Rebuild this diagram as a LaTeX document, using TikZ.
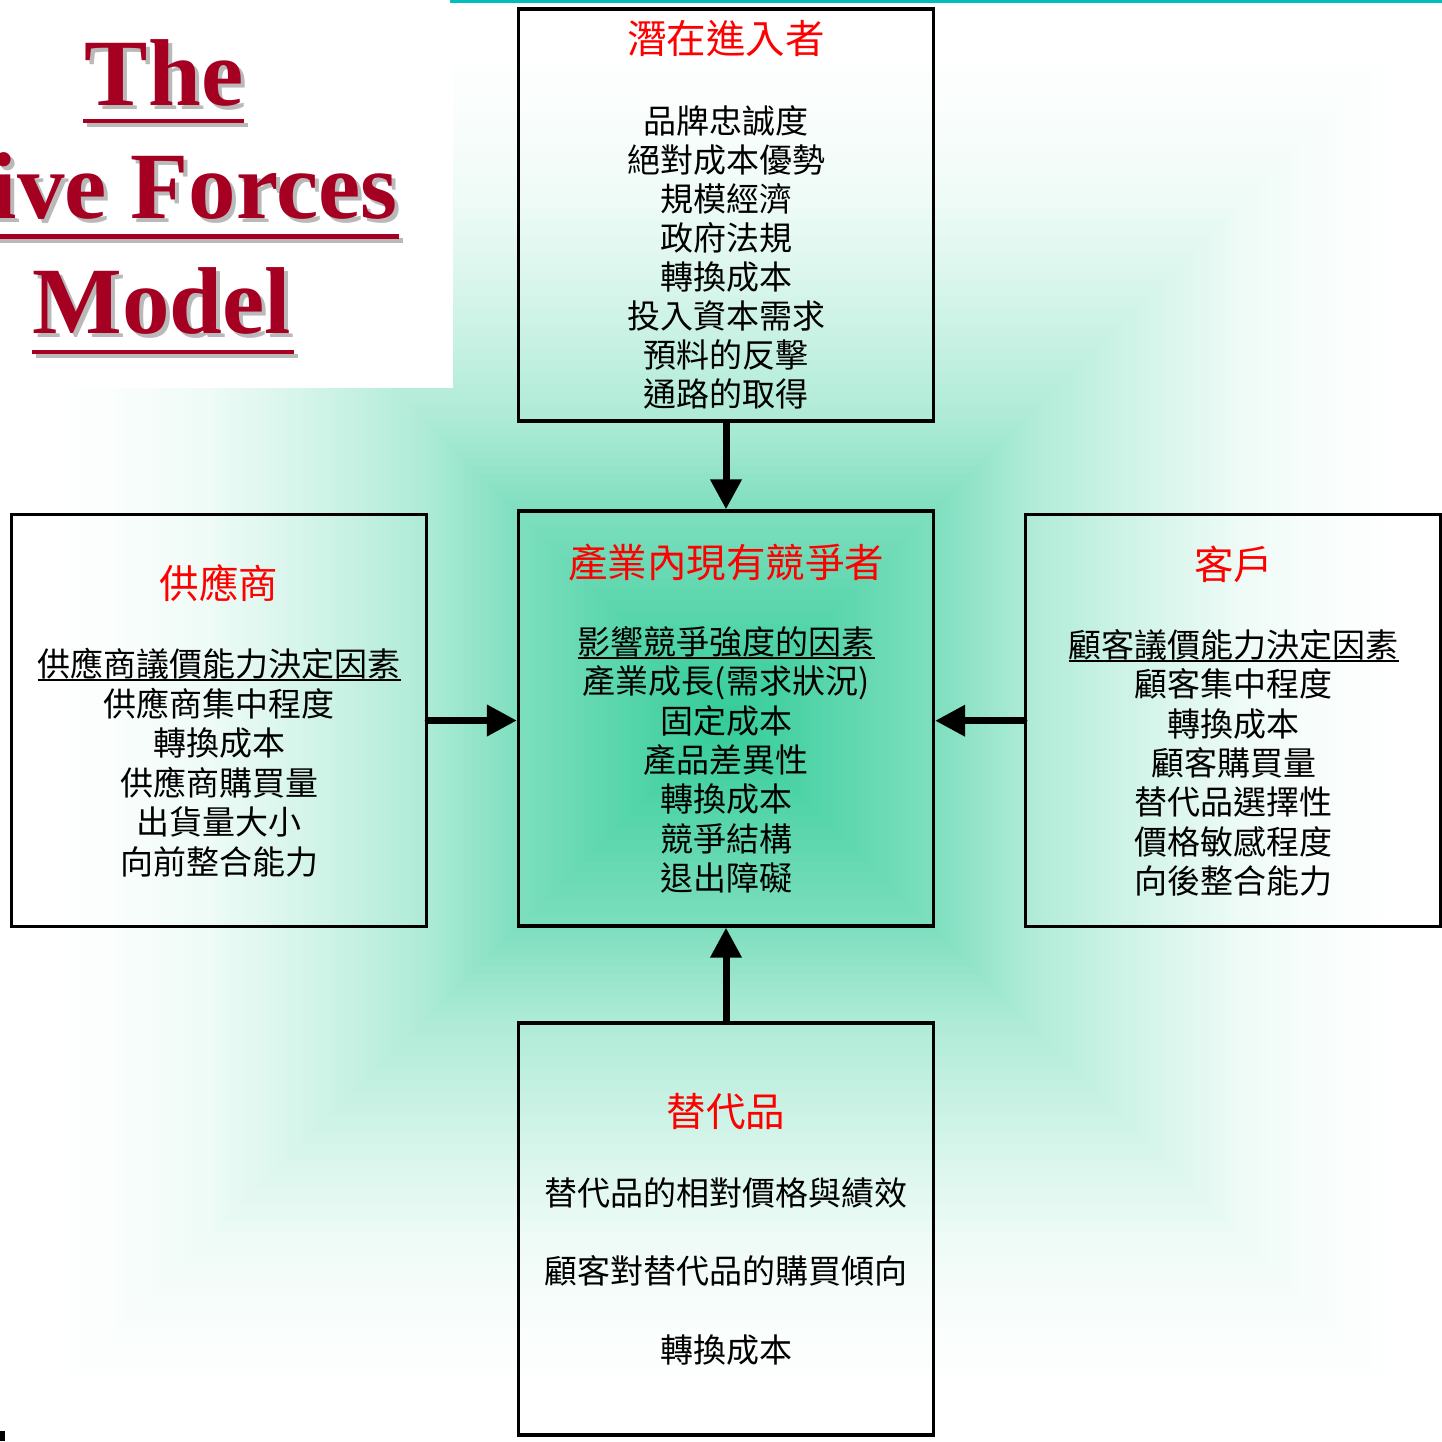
\documentclass[tikz,border=0pt]{standalone}
\usepackage{fontspec}
\setmainfont{Liberation Serif}
\newfontfamily\cjk{Noto Sans CJK TC}
\usetikzlibrary{arrows.meta}
\definecolor{bgc}{RGB}{51,204,153}
\definecolor{titlered}{RGB}{165,0,33}
\definecolor{shadowgray}{RGB}{185,185,185}
\definecolor{tealline}{RGB}{0,190,190}
\definecolor{headred}{RGB}{255,0,0}
\newcommand\ulx[1]{\setbox0\hbox{#1}\rlap{\vrule width\wd0 height -2.6pt depth 4.3pt}\box0}
\tikzset{
  forcebox/.style={draw=black, line width=3.3pt, minimum width=415pt, minimum height=412pt, inner sep=0pt},
  head/.style={font=\cjk\fontsize{39.5}{40}\selectfont, text=headred, inner sep=0pt, anchor=base},
  body/.style={font=\cjk\fontsize{33}{39}\selectfont, text=black, inner sep=0pt, anchor=base},
  arr/.style={line width=7pt, line cap=round, -{Triangle[length=30pt,width=30pt]}},
  bigtitle/.style={font=\fontsize{95}{95}\selectfont\bfseries, inner sep=0pt, text=titlered},
  titleshadow/.style={bigtitle, text=shadowgray},
}
\begin{document}
\begin{tikzpicture}[x=1pt,y=-1pt]
\useasboundingbox (0,0) rectangle (1442,1441);
\begin{scope}
\clip (0,0) rectangle (1442,1441);
% background: rectangular path gradient from the centre
\fill[white] (0,0) rectangle (1442,1441);
\foreach \d in {700,696,...,0} {
  \pgfmathsetmacro\f{\d<205 ? (100-36*(\d/205)) : (\d<304 ? (64-25*((\d-205)/99)) : (\d<420 ? (39-18*((\d-304)/116)) : (\d<520 ? (21-13*((\d-420)/100)) : (\d<620 ? (8-6*((\d-520)/100)) : (\d<680 ? (2-2*((\d-620)/60)) : 0)))))}
  \pgfmathsetmacro\f{max(0,min(100,\f))}
  \fill[bgc!\f!white] ({726-\d-2},{720-\d-2}) rectangle ({726+\d+2},{720+\d+2});
}
% title panel
\fill[white] (0,0) rectangle (453,388);
\fill[tealline] (450,0) rectangle (1442,2.7);
% title text with shadow
\node[titleshadow, anchor=base] (t1s) at (168,109) {The};
\node[bigtitle, anchor=base] (t1) at (164,105) {The};
\node[titleshadow, anchor=base east] (t2s) at (402,222.3) {ive Forces};
\node[bigtitle, anchor=base east] (t2) at (398,218.3) {ive Forces};
\node[titleshadow, anchor=base] (t3s) at (166,337.3) {Model};
\node[bigtitle, anchor=base] (t3) at (162,333.3) {Model};
\fill[shadowgray] (86.7,122.7) rectangle (248,127.3);
\fill[titlered] (82.7,118.7) rectangle (244,123.3);
\fill[shadowgray] (0,238) rectangle (403,242.7);
\fill[titlered] (0,234) rectangle (399,238.7);
\fill[shadowgray] (35.7,354) rectangle (298,358.3);
\fill[titlered] (31.7,350) rectangle (294,354.3);
\fill[black] (0,1430.7) rectangle (4.5,1441);
\end{scope}

% boxes
\node[forcebox] (top) at (726,215) {};
\node[forcebox, minimum height=415pt] (mid) at (726,718.5) {};
\node[forcebox] (left) at (219,720.5) {};
\node[forcebox] (right) at (1233,720.7) {};
\node[forcebox] (bot) at (726,1229) {};

% top box
\node[head] (top-h) at (726,53.5) {潛在進入者};
\foreach \t [count=\i from 0] in {品牌忠誠度,絕對成本優勢,規模經濟,政府法規,轉換成本,投入資本需求,預料的反擊,通路的取得}
  \node[body] (top-\i) at (726,{133.5+39*\i}) {\t};

% middle box
\node[head] (mid-h) at (726,577.5) {產業內現有競爭者};
\foreach \t [count=\i from 0] in {\ulx{影響競爭強度的因素},產業成長(需求狀況),固定成本,產品差異性,轉換成本,競爭結構,退出障礙}
  \node[body] (mid-\i) at (726,{654.5+39.3*\i}) {\t};

% left box
\node[head] (left-h) at (219,598) {供應商};
\foreach \t [count=\i from 0] in {\ulx{供應商議價能力決定因素},供應商集中程度,轉換成本,供應商購買量,出貨量大小,向前整合能力}
  \node[body] (left-\i) at (219,{676.5+39.5*\i}) {\t};

% right box
\node[head] (right-h) at (1233.5,579) {客戶};
\foreach \t [count=\i from 0] in {\ulx{顧客議價能力決定因素},顧客集中程度,轉換成本,顧客購買量,替代品選擇性,價格敏感程度,向後整合能力}
  \node[body] (right-\i) at (1233.5,{657.5+39.3*\i}) {\t};

% bottom box
\node[head] (bot-h) at (726,1126.5) {替代品};
\foreach \t [count=\i from 0] in {替代品的相對價格與績效,顧客對替代品的購買傾向,轉換成本}
  \node[body] (bot-\i) at (726,{1205+78.8*\i}) {\t};

% arrows
\draw[arr] (top.south) -- (mid.north);
\draw[arr] (bot.north) -- (mid.south);
\draw[arr] (left.east) -- (left.east -| mid.west);
\draw[arr] (right.west) -- (right.west -| mid.east);
\end{tikzpicture}
\end{document}
